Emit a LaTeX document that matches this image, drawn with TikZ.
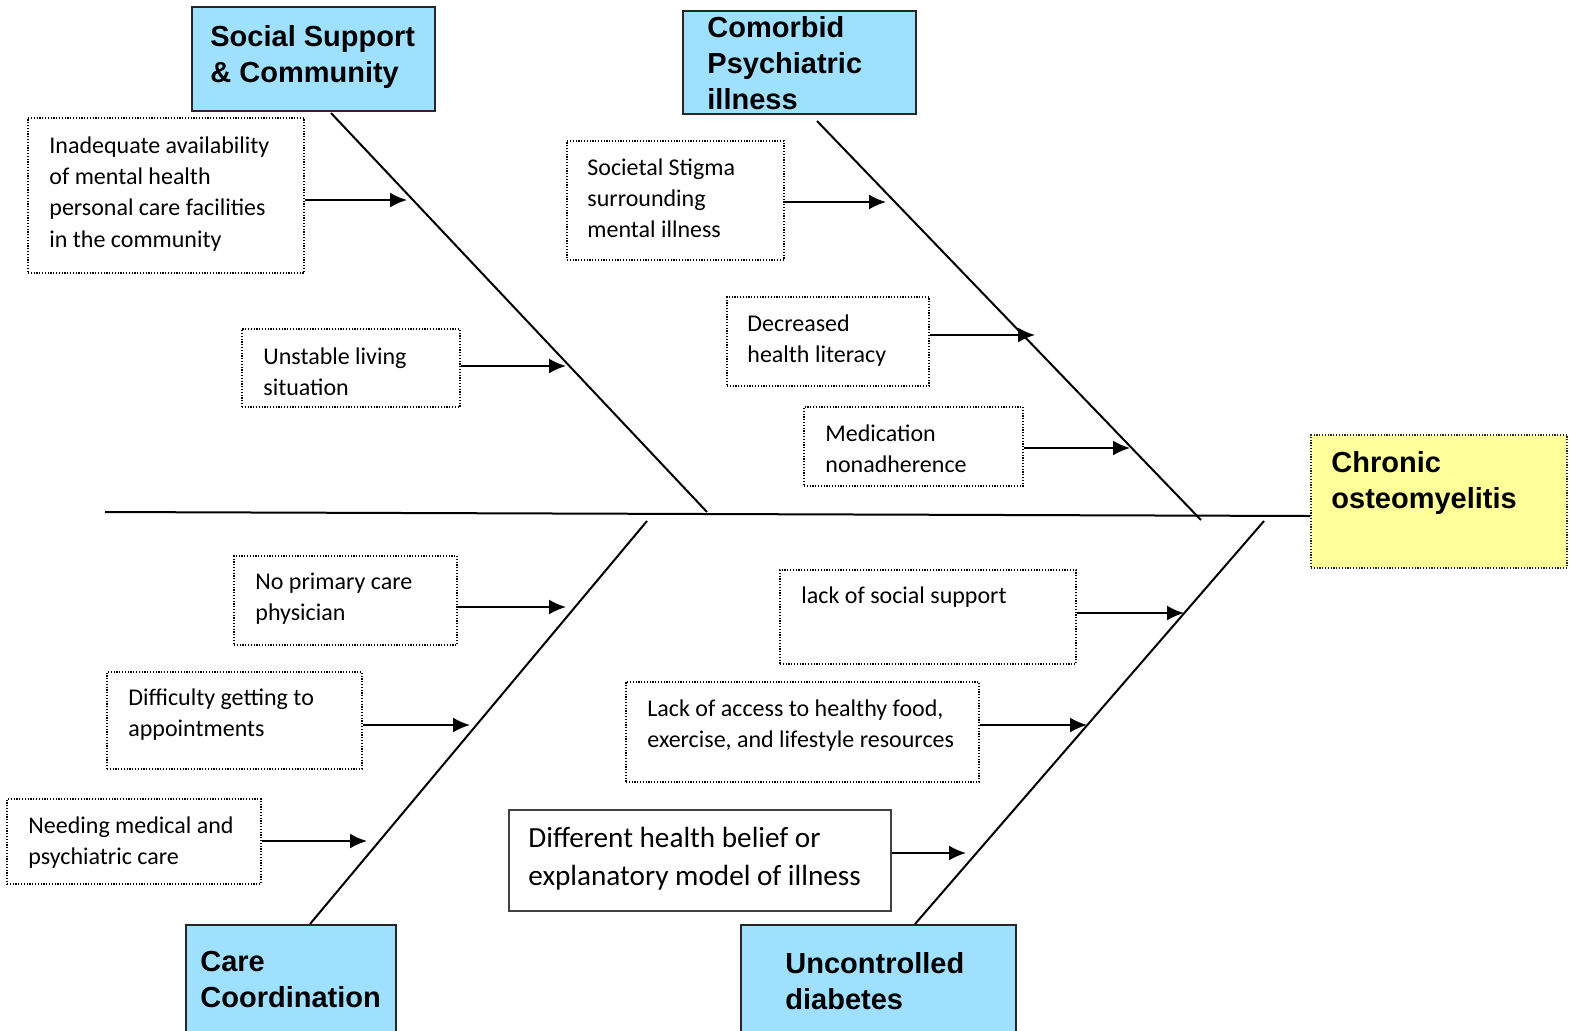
\documentclass[tikz,border=0pt]{standalone}
\usepackage{fontspec}
\setmainfont{Carlito}
\newfontfamily\headfont{Liberation Sans}
\usetikzlibrary{arrows.meta,fit}
\definecolor{catblue}{HTML}{A0E0FF}
\definecolor{effyellow}{HTML}{FFFF99}
\newcommand\mlines[1]{\begin{tabular}[t]{@{}l@{}}#1\end{tabular}}
\tikzset{
  catbox/.style={draw=black!85, line width=1pt, fill=catblue, inner sep=0pt},
  effbox/.style={draw=black!85, line width=0.7pt, dash pattern=on 0.6pt off 0.8pt, fill=effyellow, inner sep=0pt},
  causebox/.style={draw=black, line width=0.6pt, dash pattern=on 0.6pt off 0.8pt, inner sep=0pt},
  solidbox/.style={draw=black!75, line width=0.6pt, inner sep=0pt},
  headtxt/.style={anchor=base west, inner sep=0pt, font=\headfont\bfseries\fontsize{14.5}{18.2}\selectfont},
  bodytxt/.style={anchor=base west, inner sep=0pt, font=\fontsize{12}{15.7}\selectfont},
  bigtxt/.style={anchor=base west, inner sep=0pt, font=\fontsize{14.6}{19}\selectfont},
  bone/.style={line width=1pt},
  feed/.style={line width=1pt, -{Latex[length=8.5pt,width=7.5pt]}},
}
\begin{document}
\begin{tikzpicture}[x=0.5pt,y=-0.5pt]
\useasboundingbox[fill=white] (0,0) rectangle (1573,1030);

% category boxes
\node[catbox, fit={(192,7) (435,111)}] (cSoc) {};
\node[headtxt] (tSoc) at (210,46) {\mlines{Social Support\\\& Community}};
\node[catbox, fit={(683,11) (916,114)}] (cCom) {};
\node[headtxt] (tCom) at (707,37) {\mlines{Comorbid\\Psychiatric\\illness}};
\node[catbox, fit={(186,925) (396,1040)}] (cCare) {};
\node[headtxt] (tCare) at (200,971) {\mlines{Care\\Coordination}};
\node[catbox, fit={(741,925) (1016,1040)}] (cDia) {};
\node[headtxt] (tDia) at (785,973) {\mlines{Uncontrolled\\diabetes}};

% effect
\node[effbox, fit={(1311,435) (1567,568)}] (eff) {};
\node[headtxt] (tEff) at (1331,472) {\mlines{Chronic\\osteomyelitis}};

% spine
\coordinate (tail) at (105,512);
\coordinate (head) at (1311,516);
\draw[bone] (tail) -- (eff.west |- head);

% bones
\coordinate (ulEnd) at (707,512);
\coordinate (urEnd) at (1201,520);
\coordinate (llEnd) at (647,521);
\coordinate (lrEnd) at (1264,521);
\coordinate (ulStart) at (331,113);
\coordinate (urStart) at (817,121);
\draw[bone] (ulStart) -- (ulEnd);
\draw[bone] (urStart) -- (urEnd);
\draw[bone] (cCare.north -| 310,0) -- (llEnd);
\draw[bone] (cDia.north -| 915,0) -- (lrEnd);

% cause boxes
\node[causebox, fit={(28,118) (304,273)}] (b1) {};
\node[bodytxt] (t1) at (49,153) {\mlines{Inadequate availability\\of mental health\\personal care facilities\\in the community}};
\node[causebox, fit={(242,329) (460,407)}] (b2) {};
\node[bodytxt] (t2) at (263,364) {\mlines{Unstable living\\situation}};
\node[causebox, fit={(567,141) (784,260)}] (b3) {};
\node[bodytxt] (t3) at (587,175) {\mlines{Societal Stigma\\surrounding\\mental illness}};
\node[causebox, fit={(727,297) (929,386)}] (b4) {};
\node[bodytxt] (t4) at (747,331) {\mlines{Decreased\\health literacy}};
\node[causebox, fit={(804,407) (1023,486)}] (b5) {};
\node[bodytxt] (t5) at (825,441) {\mlines{Medication\\nonadherence}};
\node[causebox, fit={(234,556) (457,645)}] (b6) {};
\node[bodytxt] (t6) at (255,589) {\mlines{No primary care\\physician}};
\node[causebox, fit={(107,672) (362,769)}] (b7) {};
\node[bodytxt] (t7) at (128,705) {\mlines{Difficulty getting to\\appointments}};
\node[causebox, fit={(7,799) (261,884)}] (b8) {};
\node[bodytxt] (t8) at (28,833) {\mlines{Needing medical and\\psychiatric care}};
\node[causebox, fit={(780,570) (1076,664)}] (b9) {};
\node[bodytxt] (t9) at (801,603) {lack of social support};
\node[causebox, fit={(626,682) (979,782)}] (b10) {};
\node[bodytxt] (t10) at (647,716) {\mlines{Lack of access to healthy food,\\exercise, and lifestyle resources}};
\node[solidbox, fit={(509,810) (891,911)}] (b11) {};
\node[bigtxt] (t11) at (528,847) {\mlines{Different health belief or\\explanatory model of illness}};

% arrow tips
\coordinate (a1) at (407,200);
\coordinate (a2) at (566,366);
\coordinate (a3) at (886,202);
\coordinate (a4) at (1035,335);
\coordinate (a5) at (1130,448);
\coordinate (a6) at (566,607);
\coordinate (a7) at (470,725);
\coordinate (a8) at (367,841);
\coordinate (a9) at (1184,613);
\coordinate (a10) at (1087,725);
\coordinate (a11) at (966,853);

\foreach \i in {1,...,11} {
  \draw[feed] (b\i.east |- a\i) -- (a\i);
}
\end{tikzpicture}
\end{document}
